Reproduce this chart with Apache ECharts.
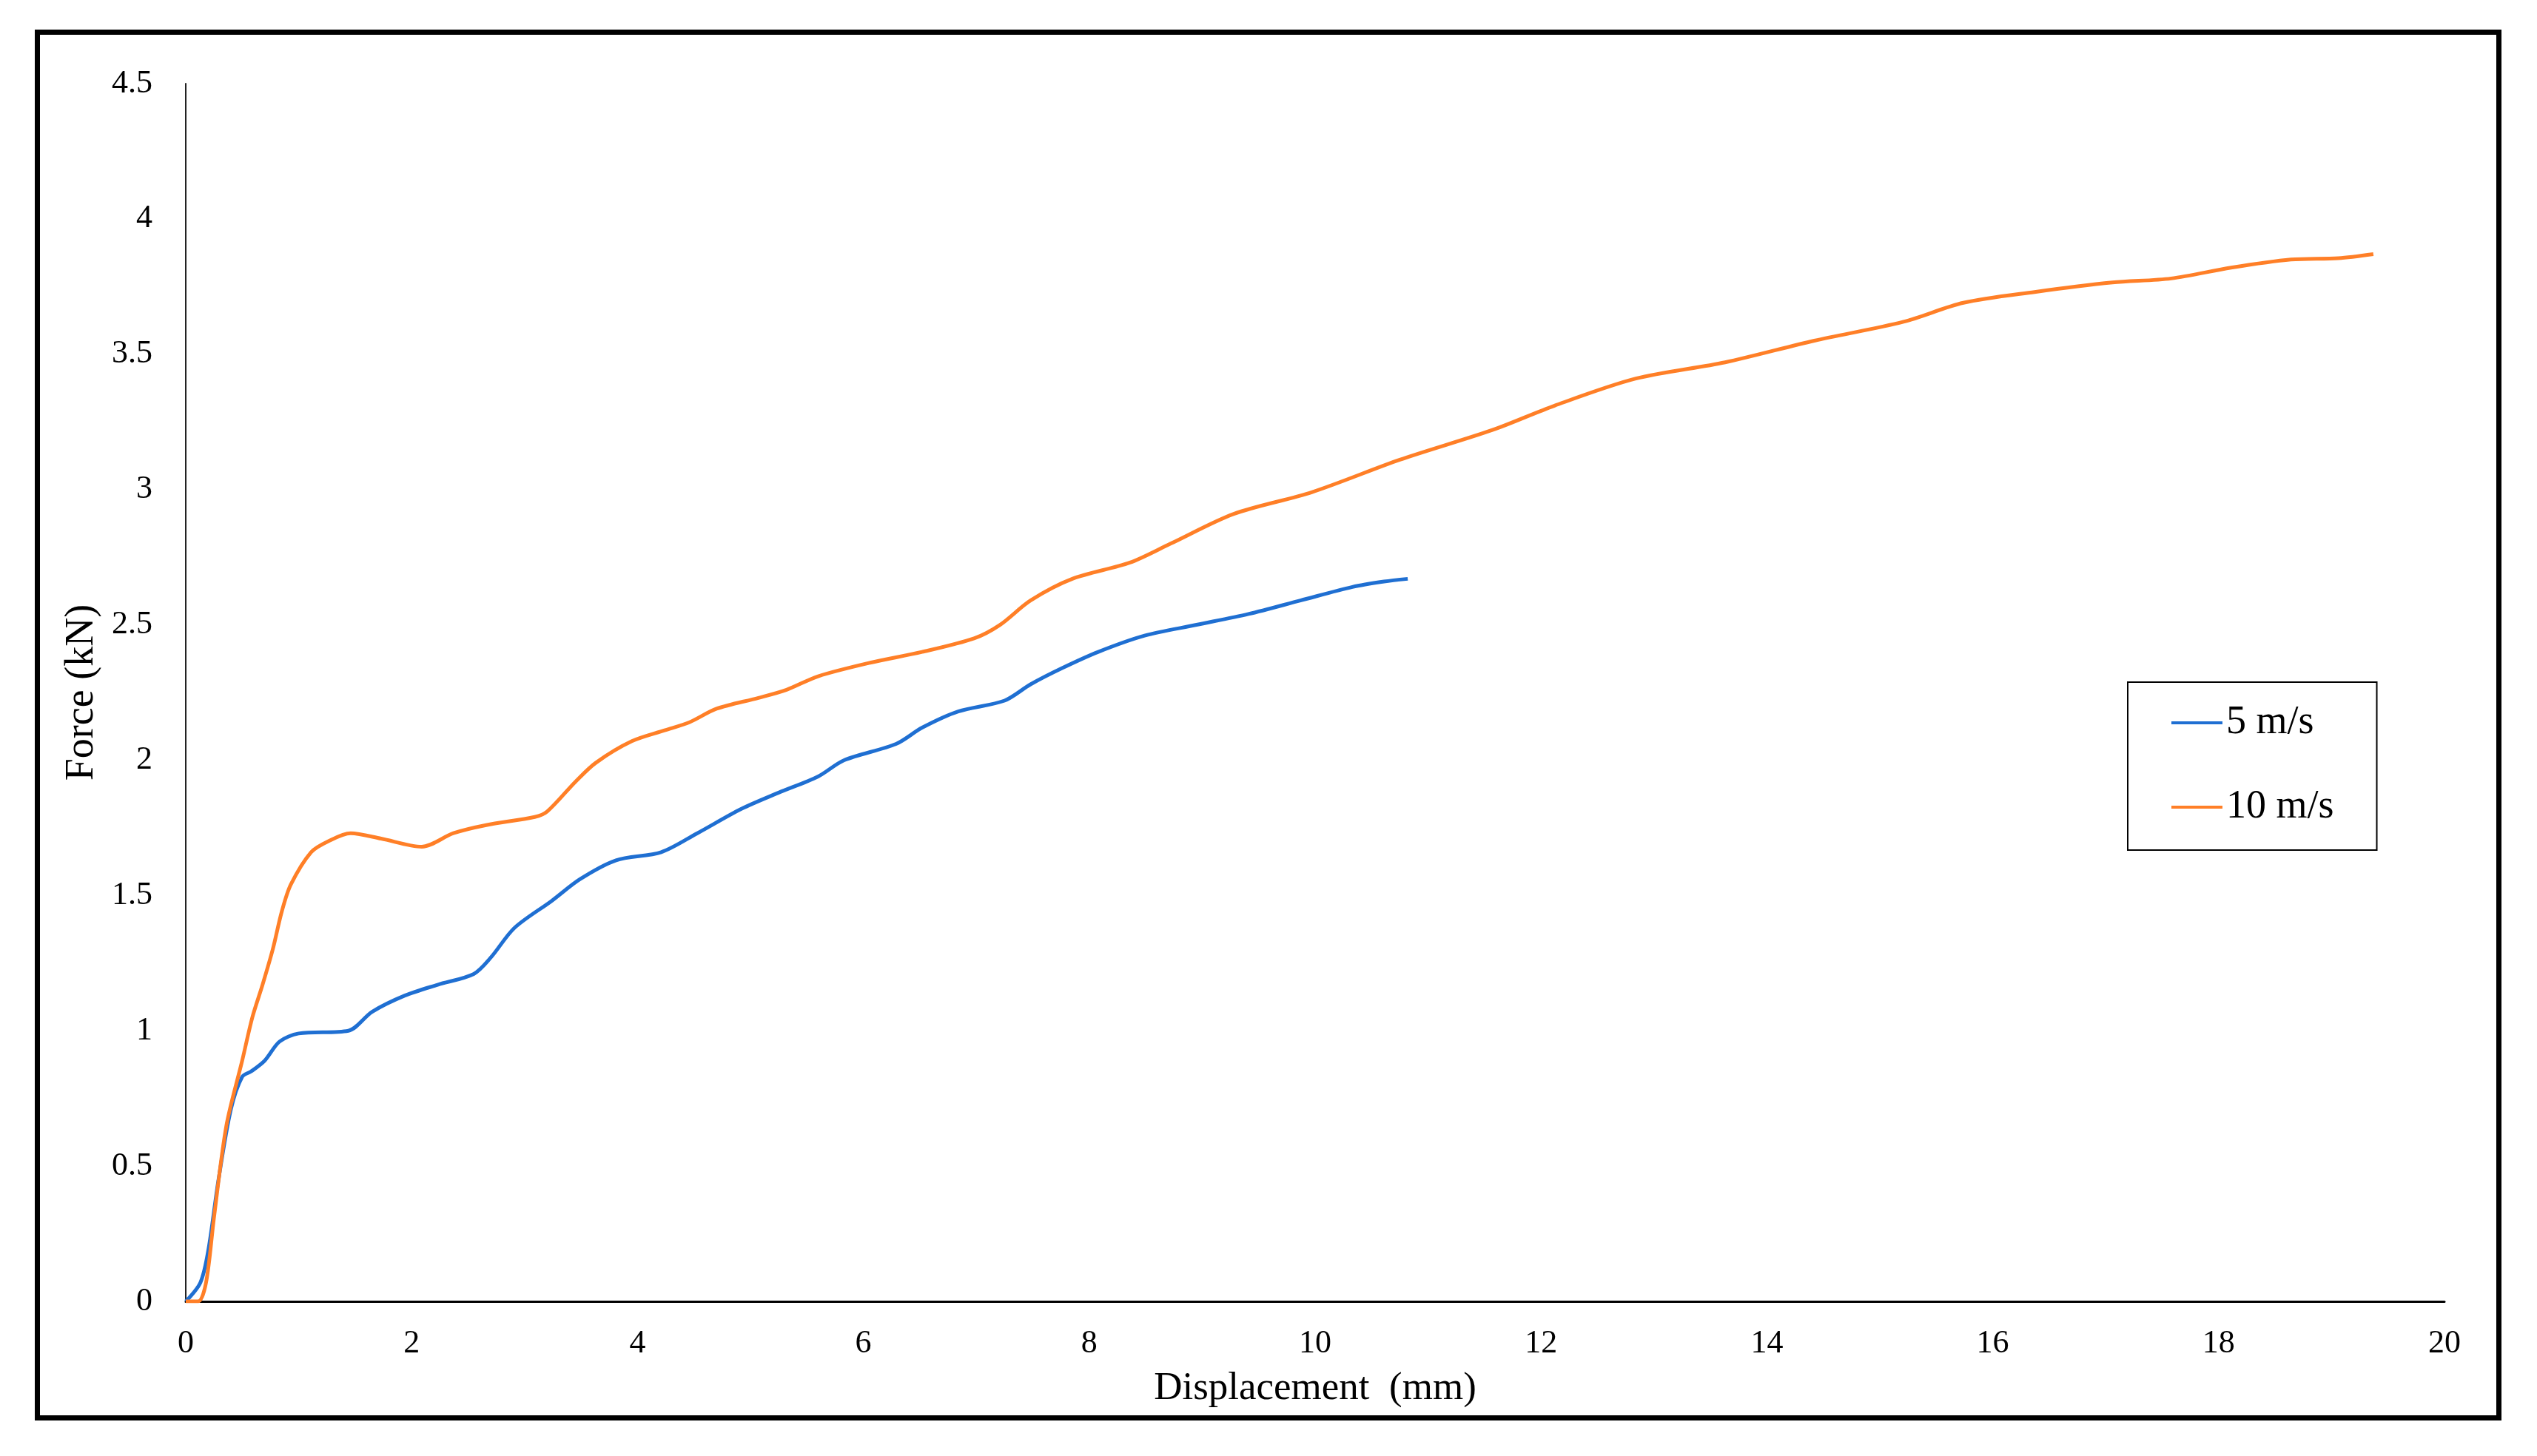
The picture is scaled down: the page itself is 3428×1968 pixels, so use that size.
<!DOCTYPE html>
<html>
<head>
<meta charset="utf-8">
<script src="https://cdn.jsdelivr.net/npm/echarts@6/dist/echarts.min.js"></script>
<style>
    html, body { margin: 0; padding: 0; background: #fff; }
    #chart { width: 3428px; height: 1968px; }
</style>
</head>
<body>
<div id="chart"></div>
<script>
// displacement (mm) / force (kN)
const disp5 = [0, 0.13, 0.2, 0.29, 0.4, 0.5, 0.58, 0.7, 0.83, 1.0, 1.44, 1.65, 1.94, 2.23, 2.55, 2.7, 2.91, 3.24, 3.49, 3.81, 4.21, 4.53, 4.92, 5.25, 5.6, 5.83, 6.29, 6.52, 6.84, 7.25, 7.48, 7.76, 8.08, 8.49, 8.95, 9.41, 9.87, 10.33, 10.61, 10.82];
const force5 = [0, 0.07, 0.19, 0.45, 0.71, 0.83, 0.85, 0.89, 0.96, 0.99, 1.0, 1.07, 1.13, 1.17, 1.21, 1.27, 1.38, 1.48, 1.56, 1.63, 1.66, 1.73, 1.82, 1.88, 1.94, 2.0, 2.06, 2.12, 2.18, 2.22, 2.28, 2.34, 2.40, 2.46, 2.50, 2.54, 2.59, 2.64, 2.66, 2.67];

const disp10 = [0, 0.11, 0.18, 0.25, 0.36, 0.5, 0.59, 0.68, 0.77, 0.85, 0.93, 1.11, 1.26, 1.46, 1.73, 2.09, 2.37, 2.66, 3.09, 3.2, 3.45, 3.63, 3.95, 4.24, 4.46, 4.7, 5.07, 5.32, 5.6, 6.06, 6.52, 6.98, 7.21, 7.48, 7.85, 8.36, 8.72, 9.28, 9.97, 10.75, 11.57, 12.12, 12.84, 13.63, 14.42, 15.21, 15.74, 16.37, 17.06, 17.58, 18.11, 18.64, 19.06, 19.37];
const force10 = [0, 0, 0.07, 0.31, 0.65, 0.89, 1.05, 1.17, 1.30, 1.44, 1.54, 1.66, 1.70, 1.73, 1.71, 1.68, 1.73, 1.76, 1.79, 1.81, 1.92, 1.99, 2.07, 2.11, 2.14, 2.19, 2.23, 2.26, 2.31, 2.36, 2.40, 2.45, 2.50, 2.59, 2.67, 2.73, 2.80, 2.91, 2.99, 3.11, 3.22, 3.31, 3.41, 3.47, 3.55, 3.62, 3.69, 3.73, 3.765, 3.78, 3.82, 3.85, 3.855, 3.87];

const seriesNames = ['5 m/s', '10 m/s'];

const font = 'Liberation Serif';

let myChart = echarts.init(document.getElementById('chart'));
let option = {
    animation: false,
    backgroundColor: '#fff',
    color: ['#1f6fd2', '#ff7f27'],
    graphic: [{
        type: 'rect',
        shape: { x: 50.5, y: 43.5, width: 3326, height: 1873 },
        style: { fill: null, stroke: '#000', lineWidth: 7 },
        silent: true
    }],
    grid: {
        left: 251,
        right: 125,
        top: 113,
        bottom: 209
    },
    legend: {
        data: seriesNames,
        orient: 'vertical',
        left: 2875,
        top: 922,
        icon: 'rect',
        itemWidth: 69,
        itemHeight: 4,
        itemGap: 60,
        padding: [28, 58, 31, 59],
        borderColor: '#000',
        borderWidth: 2,
        textStyle: { fontFamily: font, fontSize: 54, color: '#000', lineHeight: 54 }
    },
    xAxis: {
        type: 'value',
        min: 0,
        max: 20,
        interval: 2,
        name: 'Displacement  (mm)',
        nameLocation: 'middle',
        nameGap: 92,
        nameTextStyle: { fontFamily: font, fontSize: 53, color: '#000' },
        axisLine: { lineStyle: { color: '#000', width: 3 } },
        axisTick: { show: false },
        splitLine: { show: false },
        axisLabel: { fontFamily: font, fontSize: 44, color: '#000', margin: 35 }
    },
    yAxis: {
        type: 'value',
        min: 0,
        max: 4.5,
        interval: 0.5,
        name: 'Force (kN)',
        nameLocation: 'middle',
        nameGap: 113,
        nameTextStyle: { fontFamily: font, fontSize: 54, color: '#000' },
        axisLine: { show: true, lineStyle: { color: '#222', width: 2 } },
        axisTick: { show: false },
        splitLine: { show: false },
        axisLabel: { fontFamily: font, fontSize: 44, color: '#000', margin: 45 }
    },
    series: [
        {
            name: seriesNames[0],
            type: 'line',
            symbol: 'none',
            smooth: 0.3,
            lineStyle: { width: 5 },
            data: disp5.map((x, i) => [x, force5[i]])
        },
        {
            name: seriesNames[1],
            type: 'line',
            symbol: 'none',
            smooth: 0.3,
            lineStyle: { width: 5 },
            data: disp10.map((x, i) => [x, force10[i]])
        }
    ]
};
myChart.setOption(option);
</script>
</body>
</html>
